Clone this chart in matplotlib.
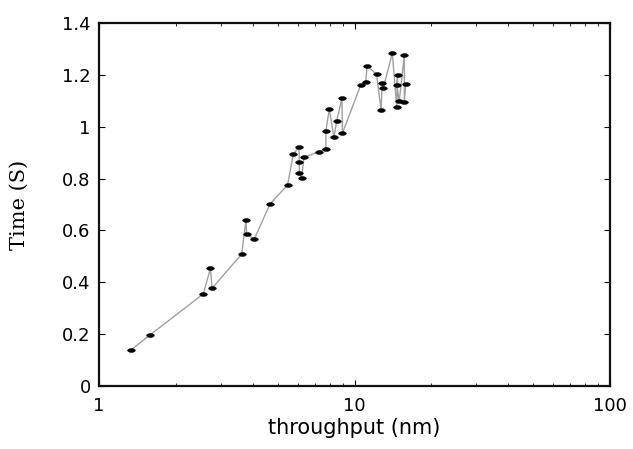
import matplotlib
matplotlib.use("Agg")
import matplotlib.pyplot as plt
import numpy as np
from matplotlib.ticker import LogLocator, NullFormatter, FixedLocator

throughput = [1.334, 1.584, 2.56, 2.73, 2.77, 3.62, 3.76, 3.78, 4.05, 4.67,
              5.47, 5.76, 6.06, 6.08, 6.08, 6.21, 6.34, 7.28, 7.73, 7.73,
              7.97, 8.31, 8.52, 8.93, 8.97, 10.58, 11.06, 11.22, 12.2, 12.7,
              12.85, 12.95, 14.06, 14.63, 14.76, 14.63, 14.97, 15.67, 15.67, 15.87]
time_s = [0.139, 0.197, 0.355, 0.454, 0.377, 0.509, 0.640, 0.586, 0.566, 0.702,
          0.775, 0.894, 0.921, 0.863, 0.820, 0.801, 0.882, 0.904, 0.914, 0.985,
          1.068, 0.959, 1.023, 1.110, 0.975, 1.161, 1.174, 1.234, 1.202, 1.065,
          1.170, 1.148, 1.283, 1.077, 1.200, 1.161, 1.099, 1.277, 1.097, 1.165]

xticks = [1, 10, 100]
xticklabels = ["1", "10", "100"]
yticks = [0, 0.2, 0.4, 0.6, 0.8, 1.0, 1.2, 1.4]
yticklabels = ["0", "0.2", "0.4", "0.6", "0.8", "1", "1.2", "1.4"]

fig = plt.figure(figsize=(6.33, 4.49), dpi=100)
ax = fig.add_axes([99/633, 1-386/449, (610-99)/633, (386-23)/449])

t = np.linspace(0, 2*np.pi, 25)
marker_shape = list(zip(np.cos(t), 0.5*np.sin(t)))
ax.plot(throughput, time_s, color="#a0a0a0", lw=1.0, zorder=2)
ax.plot(throughput, time_s, linestyle="none", marker=marker_shape, ms=5.5,
        color="black", mec="black", mew=0.4, zorder=3)

ax.set_xscale("log")
ax.set_xlim(1, 100)
ax.set_ylim(0, 1.4)
ax.xaxis.set_major_locator(FixedLocator(xticks))
ax.set_xticklabels(xticklabels)
ax.xaxis.set_minor_locator(LogLocator(base=10, subs=range(2, 10)))
ax.xaxis.set_minor_formatter(NullFormatter())
ax.set_yticks(yticks)
ax.set_yticklabels(yticklabels)

ax.tick_params(axis="both", which="both", direction="in", top=True, right=True,
               labelsize=13, colors="black")
ax.tick_params(axis="both", which="major", length=4, width=0.8)
ax.tick_params(axis="y", which="major", pad=6)
ax.tick_params(axis="x", which="major", pad=8)
ax.tick_params(axis="x", which="minor", length=2.5, width=0.6)
for lab in ax.get_xticklabels() + ax.get_yticklabels():
    lab.set_family(["DejaVu Sans"])

for s in ax.spines.values():
    s.set_linewidth(1.6)
    s.set_color("#111111")

ax.set_xlabel("throughput (nm)", fontsize=15, family=["DejaVu Sans"], labelpad=2)
ax.set_ylabel("Time (S)", fontsize=15, family=["DejaVu Serif"], labelpad=24)

fig.savefig("out.png", dpi=100)
